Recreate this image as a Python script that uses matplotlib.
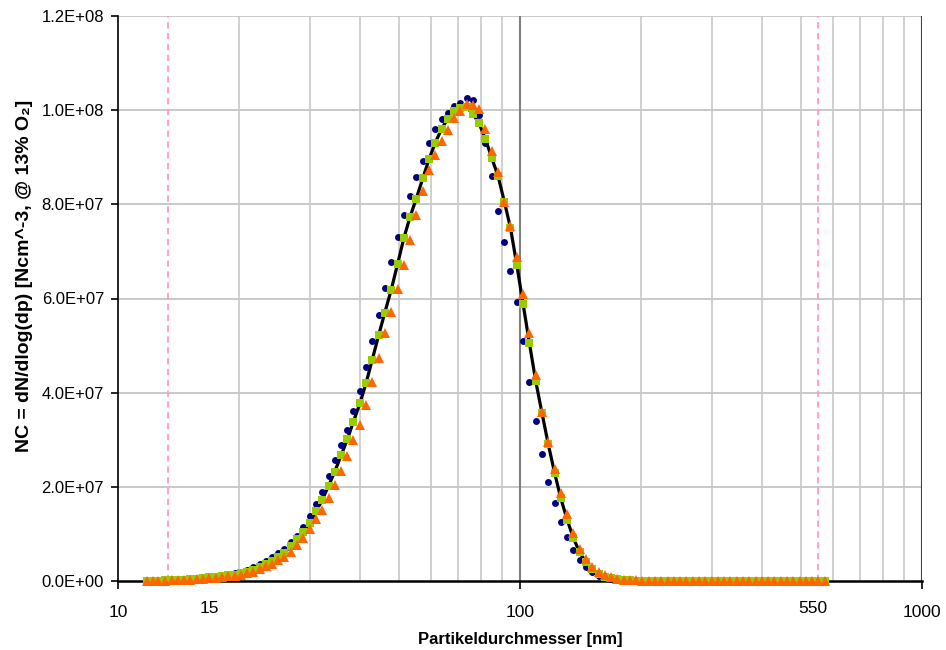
import numpy as np
import matplotlib
matplotlib.use("Agg")
from matplotlib import pyplot as plt
from matplotlib.ticker import FixedLocator, NullFormatter, FuncFormatter

plt.rcParams['font.family'] = ['Liberation Sans', 'DejaVu Sans']

# SMPS channel midpoints [nm], 64 channels per decade
diam_nm = [11.8, 12.2, 12.6, 13.1, 13.6, 14.1, 14.6, 15.1, 15.7, 16.3,
           16.8, 17.5, 18.1, 18.8, 19.5, 20.2, 20.9, 21.7, 22.5, 23.3,
           24.1, 25.0, 25.9, 26.9, 27.9, 28.9, 30.0, 31.1, 32.2, 33.4,
           34.6, 35.9, 37.2, 38.5, 40.0, 41.4, 42.9, 44.5, 46.1, 47.8,
           49.6, 51.4, 53.3, 55.2, 57.3, 59.4, 61.5, 63.8, 66.1, 68.5,
           71.0, 73.7, 76.4, 79.1, 82.0, 85.1, 88.2, 91.4, 94.7, 98.2,
           101.8, 105.5, 109.4, 113.4, 117.6, 121.9, 126.3, 131.0, 135.8, 140.7,
           145.9, 151.2, 156.8, 162.5, 168.5, 174.7, 181.1, 187.7, 194.6, 201.7,
           209.1, 216.7, 224.7, 232.9, 241.4, 250.3, 259.5, 269.0, 278.8, 289.0,
           299.6, 310.6, 322.0, 333.8, 346.0, 358.7, 371.8, 385.4, 399.5, 414.2,
           429.4, 445.1, 461.4, 478.3, 495.8, 514.0, 532.8, 552.3, 572.5]

# number concentration, in 1e6 Ncm^-3
nc_dots = [0.1, 0.1, 0.15, 0.2, 0.25, 0.3, 0.4, 0.5, 0.6, 0.75,
           0.9, 1.0, 1.2, 1.4, 1.6, 2.0, 2.4, 3.0, 3.6, 4.3,
           5.0, 6.0, 6.8, 8.2, 9.6, 11.4, 13.7, 16.3, 19.0, 22.3,
           25.6, 28.9, 32.1, 36.2, 40.4, 45.5, 51.0, 56.5, 62.2, 67.8,
           73.1, 77.8, 81.8, 85.9, 89.3, 93.0, 95.9, 98.1, 99.3, 100.9,
           101.5, 102.5, 102.2, 99.0, 93.0, 86.0, 78.6, 71.9, 65.9, 59.3,
           51.0, 42.2, 34.0, 27.0, 21.1, 16.5, 12.6, 9.4, 6.6, 4.5,
           2.9, 1.9, 1.1, 0.7, 0.4, 0.25, 0.15, 0.08, 0.05, 0.03,
           0.02, 0.01, 0.01, 0, 0, 0, 0, 0, 0, 0,
           0, 0, 0, 0, 0, 0, 0, 0, 0, 0,
           0, 0, 0, 0, 0, 0, 0, 0, 0]

nc_squares = [0.1, 0.1, 0.1, 0.15, 0.2, 0.25, 0.3, 0.4, 0.5, 0.6,
              0.75, 0.9, 1.0, 1.2, 1.35, 1.6, 2.0, 2.4, 3.0, 3.7,
              4.2, 5.0, 6.0, 7.4, 8.9, 10.5, 12.4, 14.8, 17.2, 20.2,
              23.2, 26.7, 30.1, 33.8, 37.8, 42.0, 47.0, 52.2, 57.0, 61.8,
              67.3, 72.8, 77.4, 81.2, 85.5, 89.6, 93.0, 96.0, 98.2, 99.9,
              100.5, 100.6, 99.2, 97.2, 93.9, 89.8, 86.0, 80.6, 75.0, 67.1,
              58.8, 50.6, 42.5, 35.7, 29.0, 23.0, 17.6, 13.0, 9.1, 6.1,
              4.0, 2.5, 1.5, 0.9, 0.55, 0.35, 0.2, 0.12, 0.08, 0.05,
              0.03, 0.02, 0.02, 0.01, 0.01, 0, 0, 0, 0, 0,
              0, 0, 0, 0, 0, 0, 0, 0, 0, 0,
              0, 0, 0, 0, 0, 0, 0, 0, 0]

nc_triangles = [0.05, 0.05, 0.1, 0.1, 0.15, 0.2, 0.25, 0.3, 0.4, 0.5,
                0.6, 0.7, 0.85, 1.0, 1.15, 1.3, 1.6, 2.0, 2.6, 3.1,
                3.6, 4.5, 5.2, 6.2, 7.6, 9.2, 11.0, 13.1, 15.1, 17.6,
                20.4, 23.3, 26.5, 29.9, 33.1, 37.4, 42.3, 47.3, 52.6, 57.2,
                62.0, 67.1, 72.4, 77.7, 82.8, 87.3, 90.5, 93.5, 95.8, 98.3,
                99.8, 101.4, 101.1, 100.3, 96.1, 91.4, 86.8, 80.6, 75.5, 68.8,
                61.0, 52.6, 43.8, 36.0, 29.6, 23.7, 18.6, 14.2, 10.2, 6.9,
                4.6, 3.0, 2.0, 1.2, 0.8, 0.5, 0.3, 0.2, 0.12, 0.08,
                0.05, 0.03, 0.02, 0.01, 0.01, 0, 0, 0, 0, 0,
                0, 0, 0, 0, 0, 0, 0, 0, 0, 0,
                0, 0, 0, 0, 0, 0, 0, 0, 0]

# measuring range limits of the instrument [nm]
range_limits = [13.3, 550]

d = np.array(diam_nm)
dots = np.array(nc_dots) * 1e6
squares = np.array(nc_squares) * 1e6
triangles = np.array(nc_triangles) * 1e6

fig = plt.figure(figsize=(9.46, 6.5), dpi=100)
ax = fig.add_axes([118/946, 69/650, 804/946, 565/650])

ax.set_xscale('log')
ax.set_xlim(10, 1000)
ax.set_ylim(0, 1.2e8)

# grid
for y in np.arange(2e7, 1.21e8, 2e7):
    ax.axhline(y, color='#c0c0c0', lw=1.2, zorder=0)
minor_x = [k * 10 for k in range(2, 10)] + [k * 100 for k in range(2, 10)]
for x in minor_x:
    ax.axvline(x, color='#c8c8c8', lw=1.2, zorder=0)
ax.axvline(100, color='#808080', lw=1.5, zorder=0)
ax.axvline(1000, color='#404040', lw=1.5, zorder=0)

for x in range_limits:
    ax.axvline(x, color='#ff99cc', lw=1.3, ls=(0, (3.5, 2.5)), zorder=1)

ax.plot(d, squares, color='black', lw=2.3, zorder=2)
ax.plot(d, dots, 'o', color='#000080', ms=5.0, mew=0, zorder=3, clip_on=False)
ax.plot(d, squares, 's', color='#99cc00', ms=5.6, mew=0, zorder=4, clip_on=False)
ax.plot(d, triangles, '^', color='#ff6600', ms=7.0, mew=0, zorder=5, clip_on=False)

# axes styling
for s in ['top', 'right']:
    ax.spines[s].set_visible(False)
ax.spines['left'].set_linewidth(1.2)
ax.spines['bottom'].set_linewidth(1.8)
ax.spines['left'].set_zorder(6)
ax.spines['bottom'].set_zorder(2.5)

ax.xaxis.set_major_locator(FixedLocator([10, 100, 1000]))
ax.xaxis.set_major_formatter(FuncFormatter(lambda v, p: '%d' % v))
ax.xaxis.set_minor_locator(FixedLocator([]))
ax.xaxis.set_minor_formatter(NullFormatter())
ax.set_yticks(np.arange(0, 1.21e8, 2e7))
ax.yaxis.set_major_formatter(FuncFormatter(lambda v, p: '%.1E' % v))
ax.tick_params(axis='x', length=6, width=1.2, pad=11, labelsize=12.5, colors='black')
ax.tick_params(axis='y', length=5, width=1.2, pad=5, labelsize=12, colors='black')

tr = ax.get_xaxis_transform()
ax.text(16.9, -0.048, '15', transform=tr, ha='center', va='center', fontsize=12.5)
ax.text(536, -0.048, '550', transform=tr, ha='center', va='center', fontsize=12.5)

ax.set_xlabel('Partikeldurchmesser [nm]', fontsize=12, fontweight='bold')
ax.xaxis.set_label_coords(0.5, -0.09)
ax.set_ylabel('NC = dN/dlog(dp) [Ncm^-3, @ 13% O\u2082]', fontsize=14, fontweight='bold')
ax.yaxis.set_label_coords(-0.106, 0.54)

fig.savefig('out.png', dpi=100)
